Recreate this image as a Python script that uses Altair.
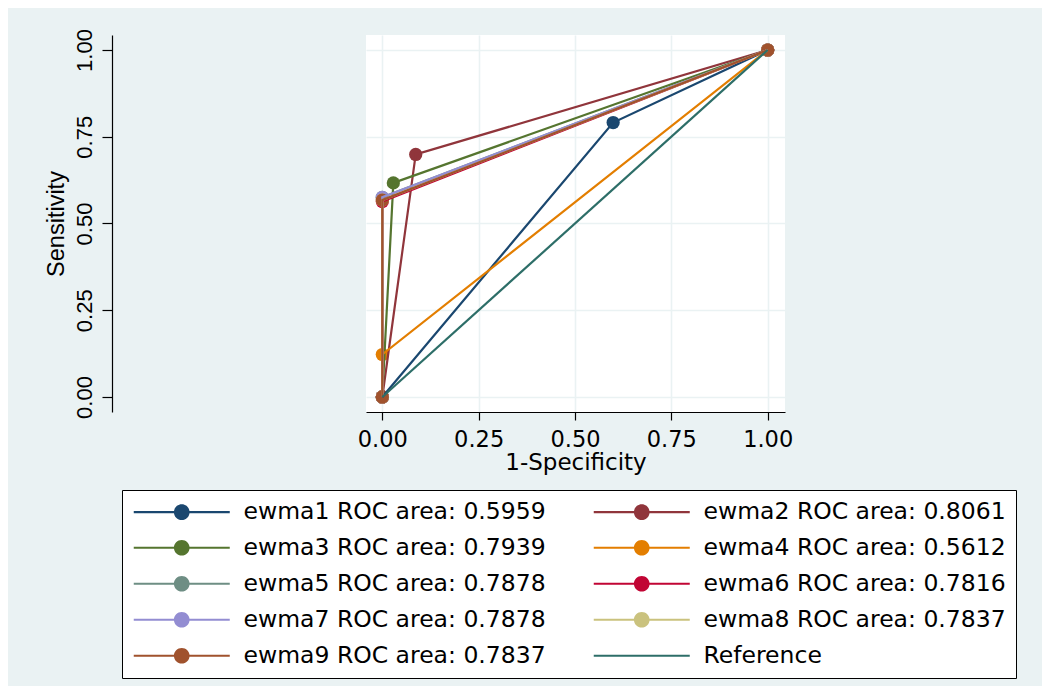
import altair as alt
import pandas as pd

# ---- data ----
series = [
    "ewma1 ROC area: 0.5959",
    "ewma2 ROC area: 0.8061",
    "ewma3 ROC area: 0.7939",
    "ewma4 ROC area: 0.5612",
    "ewma5 ROC area: 0.7878",
    "ewma6 ROC area: 0.7816",
    "ewma7 ROC area: 0.7878",
    "ewma8 ROC area: 0.7837",
    "ewma9 ROC area: 0.7837",
    "Reference",
]
colors = ["#1a476f", "#90353b", "#55752f", "#e37e00", "#6e8e84",
          "#c10534", "#938dd2", "#cac27e", "#a0522d", "#2d6e68"]
# operating point (1-specificity, sensitivity) of each classifier
fpr_mid = [0.599, 0.0867, 0.0286, 0.0, 0.0, 0.0, 0.0, 0.0, 0.0]
tpr_mid = [0.791, 0.699, 0.617, 0.1224, 0.5756, 0.5632, 0.5756, 0.5674, 0.5674]
ref_x = [0.0, 1.0]
ref_y = [0.0, 1.0]
tick_vals = [0.0, 0.25, 0.5, 0.75, 1.0]

rows = []
for i in range(9):
    pts = [(0.0, 0.0), (fpr_mid[i], tpr_mid[i]), (1.0, 1.0)]
    for k, (a, b) in enumerate(pts):
        rows.append({"series": series[i], "fpr": a, "tpr": b, "idx": k})
for k in range(2):
    rows.append({"series": "Reference", "fpr": ref_x[k], "tpr": ref_y[k], "idx": k})
df = pd.DataFrame(rows)

BG = "#EAF2F3"
HFONT = "DejaVu Sans"
VFONT = "Liberation Sans"

# legend symbols: line + dot, or plain line for the reference
sym_marker = ("M-6,-0.13H-0.9V0.13H-6Z M0.9,-0.13H6V0.13H0.9Z "
              "M-0.98,0A0.98,0.98,0,1,1,0.98,0A0.98,0.98,0,1,1,-0.98,0Z")
sym_line = "M-6,-0.13H6V0.13H-6Z"
shape_range = [sym_marker] * 9 + [sym_line]

legend = alt.Legend(
    title=None, orient="none", legendX=-244, legendY=455,
    columns=2, direction="horizontal",
    labelFont=HFONT, labelFontSize=23.5, labelColor="black", labelLimit=600,
    labelOffset=50, symbolOffset=38, symbolSize=256, symbolStrokeWidth=0,
    rowPadding=11, columnPadding=46, padding=10,
    strokeColor="black", fillColor="white",
)

xs = alt.X("fpr:Q", title="1-Specificity",
           scale=alt.Scale(domain=[-0.0423, 1.0449], nice=False, zero=False),
           axis=alt.Axis(values=tick_vals, format=".2f",
                         labelFont=HFONT, labelFontSize=22.5, labelColor="black",
                         labelPadding=8, tickSize=8, tickColor="black",
                         tickWidth=1.2, domainColor="black", domainWidth=1.2,
                         titleFont=HFONT, titleFontSize=23, titleFontWeight="normal",
                         titleColor="black", titlePadding=1,
                         grid=True, gridColor=BG, gridWidth=1.6))
ys = alt.Y("tpr:Q", title="Sensitivity",
           scale=alt.Scale(domain=[-0.0433, 1.0433], nice=False, zero=False),
           axis=alt.Axis(values=tick_vals, format=".2f", offset=254,
                         labelFont=VFONT, labelFontSize=22, labelColor="black",
                         labelAngle=270, labelAlign="center", labelBaseline="alphabetic",
                         labelPadding=11, tickSize=10, tickColor="black",
                         tickWidth=1.2, domainColor="black", domainWidth=1.2,
                         titleFont=VFONT, titleFontSize=23.5, titleFontWeight="normal",
                         titleColor="black", titlePadding=5,
                         grid=True, gridColor=BG, gridWidth=1.6))
col = alt.Color("series:N", scale=alt.Scale(domain=series, range=colors), legend=legend)

base = alt.Chart(df)

points = base.transform_filter(alt.datum.series != "Reference").mark_point(
    filled=True, size=175, opacity=1
).encode(x=xs, y=ys, color=col)

lines = base.mark_line(strokeWidth=2.2).encode(
    x=xs, y=ys, color=col, order="idx:Q"
)

legend_layer = base.transform_filter("false").mark_point(filled=True, opacity=1).encode(
    x=xs, y=ys, color=col,
    shape=alt.Shape("series:N", scale=alt.Scale(domain=series, range=shape_range),
                    legend=legend),
)

chart = alt.layer(points, lines, legend_layer).properties(
    width=419, height=377,
    autosize=alt.AutoSizeParams(type="none"),
    padding={"left": 358, "top": 27, "right": 257, "bottom": 274},
    background=BG,
).configure_view(stroke=None, fill="white")

chart.save("out.html", embed_options={"renderer": "svg", "actions": False})
